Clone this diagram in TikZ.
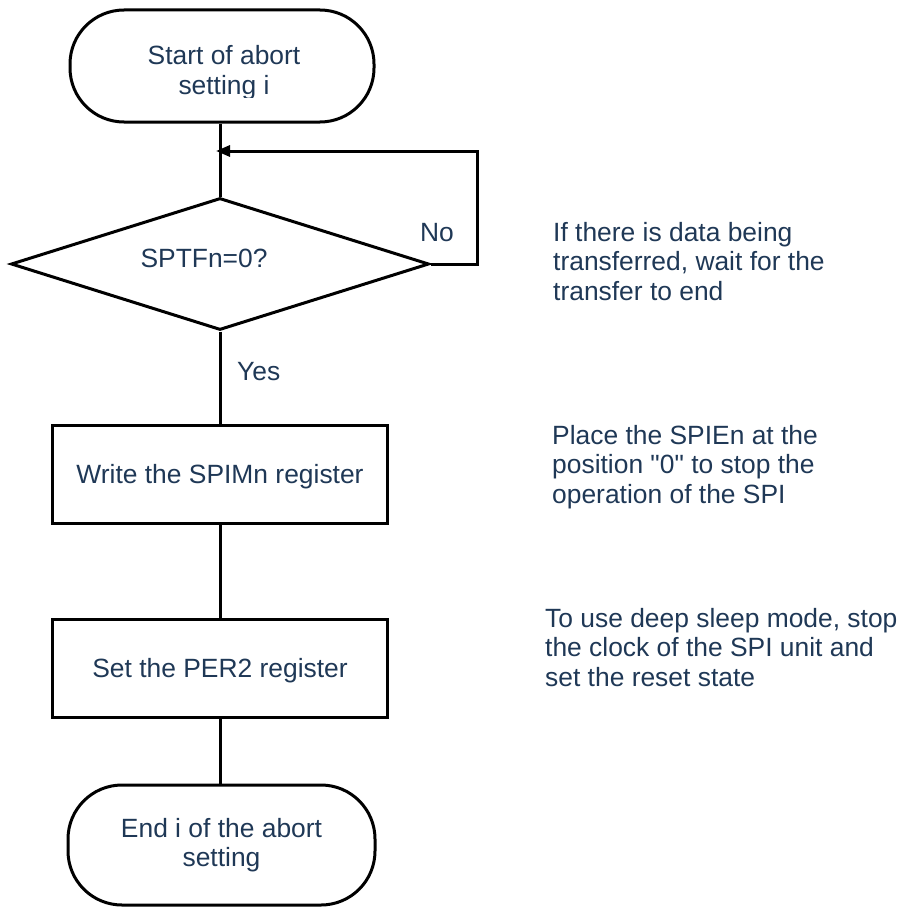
\documentclass[tikz,border=0pt]{standalone}
\usepackage{fontspec}
\newfontfamily\arialf{Liberation Sans}
\usetikzlibrary{shapes.geometric,arrows.meta}
\definecolor{txtblue}{RGB}{31,56,86}
\begin{document}
\begin{tikzpicture}[x=1pt,y=-1pt,
  every node/.style={font=\arialf\fontsize{26.4}{29.5}\selectfont, text=txtblue},
  line/.style={line width=3pt, draw=black},
  term/.style={draw=black, line width=3pt, rounded corners=54pt, inner sep=0pt},
  proc/.style={draw=black, line width=3pt, minimum width=335pt, minimum height=98pt, inner sep=0pt, text height=19pt, text depth=0pt},
  decision/.style={draw=black, diamond, line width=3pt, minimum width=418pt, minimum height=132pt, inner sep=0pt},
  note/.style={anchor=base west, align=left, inner sep=0pt},
  txt/.style={align=center, inner sep=0pt}
]
\useasboundingbox (0,0) rectangle (909,907);

% start terminal
\node[term, minimum width=304pt, minimum height=112pt] (start) at (222,66) {};
\begin{scope}
  \clip (0,0) rectangle (909,97.5);
  \node[txt, anchor=base] (starttxt) at (224,94) {Start of abort\\setting i};
\end{scope}

% decision
\node[decision, label={[txt, text height=19pt, text depth=0pt, xshift=-16pt, yshift=6.5pt]center:SPTFn=0?}] (dec) at (220,264) {};

% process boxes
\node[proc] (box1) at (220,474) {Write the SPIMn register};
\node[proc] (box2) at (220,668) {Set the PER2 register};

% end terminal
\node[term, txt, draw=black, minimum width=307pt, minimum height=120pt] (end) at (221.5,845) {End i of the abort\\setting};

% connectors
\coordinate (looptop) at (477,151);
\coordinate (loopin) at (216,151);
\draw[line] (start.south -| dec.north) -- (dec.north);
\draw[line, -{Triangle[length=14pt,width=11pt]}] (dec.east) -| (looptop) -- (loopin);
\draw[line] (dec.south) -- (box1.north);
\draw[line] (box1.south) -- (box2.north);
\draw[line] (box2.south) -- (end.north -| box2.south);

% labels
\node[inner sep=0pt] (no) at (437,233) {No};
\node[anchor=base west, inner sep=0pt] (yes) at (237,380) {Yes};

% notes
\node[note] (note1) at (553,300) {If there is data being\\transferred, wait for the\\transfer to end};
\node[note] (note2) at (552,503) {Place the SPIEn at the\\position "0" to stop the\\operation of the SPI};
\node[note] (note3) at (545,686) {To use deep sleep mode, stop\\the clock of the SPI unit and\\set the reset state};
\end{tikzpicture}
\end{document}
